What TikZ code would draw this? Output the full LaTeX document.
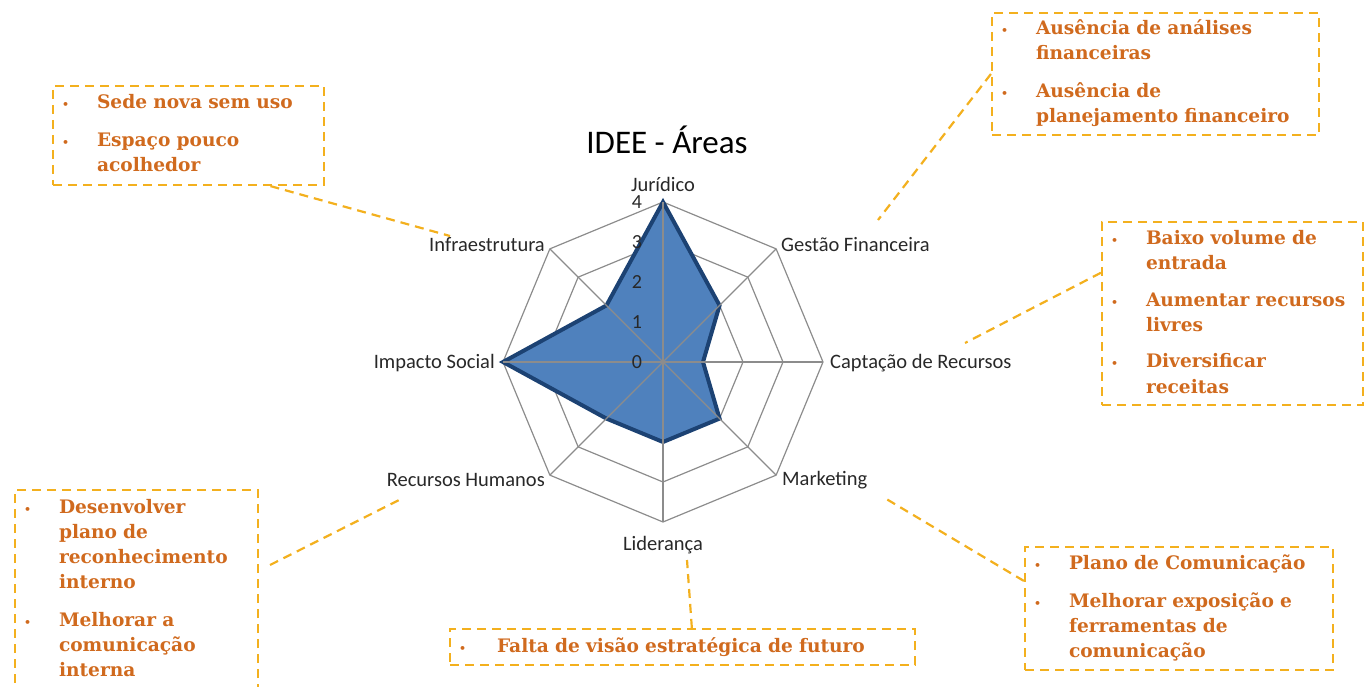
\documentclass[tikz,border=0pt]{standalone}
\usepackage{fontspec}
\newfontfamily\notefont{DejaVu Serif}
\newfontfamily\chartfont{Carlito}
\usetikzlibrary{calc,arrows}
\definecolor{gold}{RGB}{243,176,30}
\definecolor{rust}{RGB}{208,106,30}
\definecolor{gridgray}{RGB}{140,140,140}
\definecolor{areafill}{RGB}{79,129,189}
\definecolor{arealine}{RGB}{28,66,115}
\definecolor{labelgray}{RGB}{40,40,40}
\tikzset{
    note/.style = {draw=gold, line width=2.2pt, dash pattern=on 9pt off 6pt,
        text=rust, font=\notefont\bfseries\fontsize{18.6}{25}\selectfont,
        align=left, inner xsep=9pt, inner ysep=0pt},
    link/.style = {draw=gold, line width=2.2pt, dash pattern=on 9pt off 6pt},
    ring/.style = {draw=gridgray, line width=1.2pt},
    axis/.style = {font=\chartfont\fontsize{20.5}{24}\selectfont, text=labelgray, inner sep=0pt},
    tick/.style = {font=\chartfont\fontsize{20}{24}\selectfont, text=labelgray, inner sep=0pt}
}
\newcommand{\bul}{{\fontsize{11}{11}\selectfont\textbullet}}
\begin{document}
\begin{tikzpicture}[x=1pt, y=1pt, >=latex']
        \useasboundingbox (0,0) rectangle (1366,-687);
        \node [font=\chartfont\fontsize{33}{38}\selectfont, text=black] (title) at (667,-140) {IDEE - Áreas};
        \coordinate (ctr) at (663,-362);
        \begin{scope}[shift={(ctr)}]
        \foreach \r in {40,80,120,160}
            \draw [ring] (0:\r) \foreach \a in {45,90,...,315} { -- (\a:\r)} -- cycle;
        \draw [draw=arealine, fill=areafill, line width=4pt, line join=miter] (90:160) -- (45:80) -- (0:40) -- (-45:80) -- (-90:80) -- (-135:80) -- (180:160) -- (135:80) -- cycle;
        \foreach \a in {0,45,...,315}
            \draw [ring] (0,0) -- (\a:160);
        \end{scope}
        \foreach \i in {0,...,4}
            \node [tick] (t\i) at ($(ctr)+(-26,40*\i)$) {\i};
        \node [axis] (jur) at ($(ctr)+(0,178)$) {Jurídico};
        \node [axis, anchor=west] (gest) at ($(ctr)+(118,117)$) {Gestão Financeira};
        \node [axis, anchor=west] (capt) at ($(ctr)+(167,-1)$) {Captação de Recursos};
        \node [axis, anchor=west] (mark) at ($(ctr)+(119,-118)$) {Marketing};
        \node [axis] (lidl) at ($(ctr)+(0,-183)$) {Liderança};
        \node [axis, anchor=east] (rhl) at ($(ctr)+(-118,-118)$) {Recursos Humanos};
        \node [axis, anchor=east] (imp) at ($(ctr)+(-168,-1)$) {Impacto Social};
        \node [axis, anchor=east] (infl) at ($(ctr)+(-118,117)$) {Infraestrutura};
        \node [note, minimum width=271pt, minimum height=99pt, text width=253pt] (sede) at (188.5,-135.5) {\begin{tabular}{@{}p{35pt}@{}l@{}}\bul & Sede nova sem uso\\[13pt] \bul & Espaço pouco\\ & acolhedor\end{tabular}};
        \node [note, minimum width=327pt, minimum height=122pt, text width=309pt] (fin) at (1155.5,-74) {\begin{tabular}{@{}p{35pt}@{}l@{}}\bul & Ausência de análises\\ & financeiras\\[13pt] \bul & Ausência de\\ & planejamento financeiro\end{tabular}};
        \node [note, minimum width=261pt, minimum height=183pt, text width=243pt] (cap) at (1232.5,-313.5) {\begin{tabular}{@{}p{35pt}@{}l@{}}\bul & Baixo volume de\\ & entrada\\[12pt] \bul & Aumentar recursos\\ & livres\\[12pt] \bul & Diversificar\\ & receitas\end{tabular}};
        \node [note, minimum width=243pt, minimum height=200pt, text width=225pt] (rh) at (136.5,-590) {\begin{tabular}{@{}p{35pt}@{}l@{}}\bul & Desenvolver\\ & plano de\\ & reconhecimento\\ & interno\\[13pt] \bul & Melhorar a\\ & comunicação\\ & interna\end{tabular}};
        \node [note, minimum width=308pt, minimum height=123pt, text width=290pt] (mkt) at (1179,-608.5) {\begin{tabular}{@{}p{35pt}@{}l@{}}\bul & Plano de Comunicação\\[13pt] \bul & Melhorar exposição e\\ & ferramentas de\\ & comunicação\end{tabular}};
        \node [note, minimum width=465pt, minimum height=36pt, text width=447pt] (lid) at (682.5,-647) {\begin{tabular}{@{}p{38pt}@{}l@{}}\bul & Falta de visão estratégica de futuro\end{tabular}};
        \coordinate (infra-end) at (450,-236);
        \coordinate (fin-end) at (878,-220);
        \coordinate (cap-end) at (965,-343);
        \coordinate (rh-start) at (270,-565);
        \coordinate (rh-end) at (403,-498);
        \coordinate (mkt-end) at (883,-497);
        \coordinate (lid-end) at (687,-560);
        \draw [link] ($(sede.south west)!.8!(sede.south east)$) -- (infra-end);
        \draw [link] (fin.west) -- (fin-end);
        \draw [link] ($(cap.north west)!.28!(cap.south west)$) -- (cap-end);
        \draw [link] (rh-start) -- (rh-end);
        \draw [link] ($(mkt.north west)!.28!(mkt.south west)$) -- (mkt-end);
        \draw [link] ($(lid.north west)!.52!(lid.north east)$) -- (lid-end);
    \end{tikzpicture}
\end{document}
